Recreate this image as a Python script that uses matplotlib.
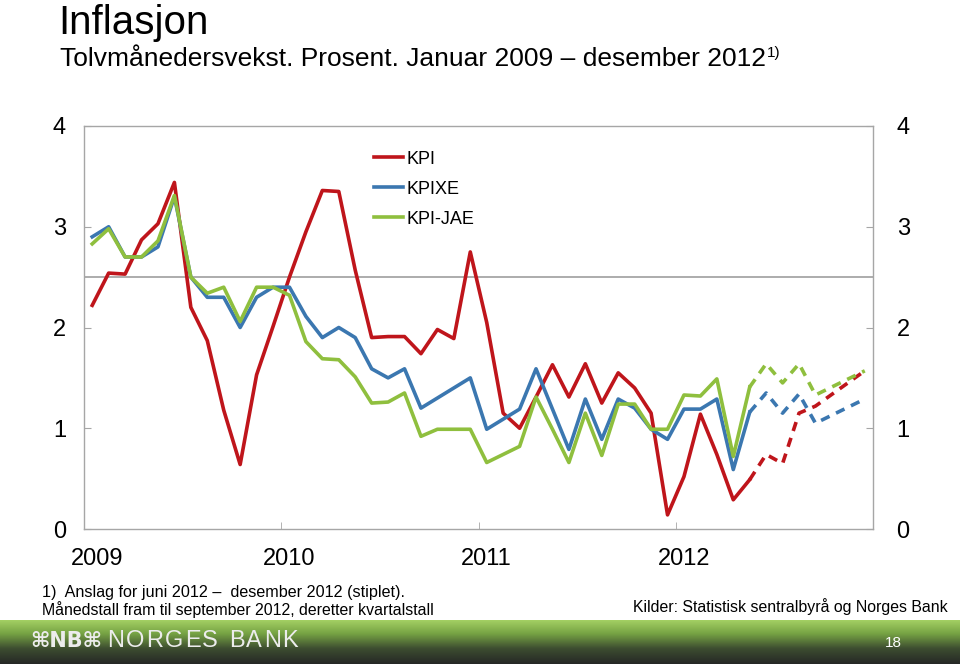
import matplotlib.pyplot as plt
import numpy as np
from matplotlib.colors import LinearSegmentedColormap

plt.rcParams['font.family'] = ['Liberation Sans', 'DejaVu Sans']

# jan 2009 - mai 2012, month index 0..40
months = list(range(41))
kpi = [2.22, 2.54, 2.53, 2.87, 3.03, 3.44, 2.20, 1.87, 1.18, 0.64,
       1.53, 2.01, 2.50, 2.95, 3.36, 3.35, 2.57, 1.90, 1.91, 1.91,
       1.74, 1.98, 1.89, 2.75, 2.05, 1.15, 1.00, 1.31, 1.63, 1.31,
       1.64, 1.25, 1.55, 1.40, 1.15, 0.14, 0.52, 1.14, 0.74, 0.29, 0.49]
kpixe = [2.90, 3.00, 2.70, 2.70, 2.80, 3.30, 2.50, 2.30, 2.30, 2.00,
         2.30, 2.40, 2.40, 2.11, 1.90, 2.00, 1.90, 1.59, 1.50, 1.59,
         1.20, 1.30, 1.40, 1.50, 0.99, 1.09, 1.19, 1.59, 1.19, 0.79,
         1.29, 0.89, 1.29, 1.20, 0.99, 0.89, 1.19, 1.19, 1.29, 0.59, 1.16]
kpijae = [2.83, 2.98, 2.70, 2.70, 2.86, 3.31, 2.50, 2.34, 2.40, 2.06,
          2.40, 2.40, 2.32, 1.86, 1.69, 1.68, 1.51, 1.25, 1.26, 1.35,
          0.92, 0.99, 0.99, 0.99, 0.66, 0.74, 0.82, 1.31, 0.99, 0.66,
          1.15, 0.73, 1.24, 1.24, 0.99, 0.99, 1.33, 1.32, 1.49, 0.72, 1.41]

# anslag (stiplet): mai-sep 2012 maanedlig, deretter 4. kvartal (des)
months_f = [40, 41, 42, 43, 44, 47]
kpi_f = [0.49, 0.74, 0.65, 1.15, 1.22, 1.57]
kpixe_f = [1.16, 1.35, 1.15, 1.34, 1.05, 1.29]
kpijae_f = [1.41, 1.64, 1.45, 1.64, 1.33, 1.57]

year_pos = [0.3, 12, 24, 36]
year_labels = ['2009', '2010', '2011', '2012']
year_ticks = [11.5, 23.5, 35.5]

red = '#bf151b'
blue = '#3b77b0'
green = '#8fbf3e'
grey = '#a6a6a6'

W, H = 960, 664
fig = plt.figure(figsize=(9.6, 6.64), dpi=100)
ax = fig.add_axes([84 / W, 1 - 529 / H, 789 / W, 403 / H])

ax.axhline(2.5, color=grey, lw=1.3, zorder=1)

lw = 2.6
ax.plot(months, kpi, color=red, lw=lw, label='KPI', zorder=3)
ax.plot(months, kpixe, color=blue, lw=lw, label='KPIXE', zorder=3)
ax.plot(months, kpijae, color=green, lw=lw, label='KPI-JAE', zorder=3)
for vals, c in [(kpi_f, red), (kpixe_f, blue), (kpijae_f, green)]:
    ax.plot(months_f, vals, color=c, lw=lw, dashes=(2.6, 2.0), zorder=3)

ax.set_xlim(-0.5, 47.5)
ax.set_ylim(0, 4)
ax.set_yticks([0, 1, 2, 3, 4])
ax.set_xticks(year_pos)
ax.set_xticklabels(year_labels)
ax.set_xticks(year_ticks, minor=True)
ax.tick_params(axis='x', which='major', length=0, labelsize=17, pad=14)
ax.tick_params(axis='x', which='minor', direction='in', length=5, color=grey)
ax.tick_params(axis='y', direction='in', length=5, color=grey, labelsize=17, pad=13)
for s in ax.spines.values():
    s.set_color(grey)
    s.set_linewidth(1.0)

ax2 = ax.twinx()
ax2.set_ylim(0, 4)
ax2.set_yticks([0, 1, 2, 3, 4])
ax2.tick_params(axis='y', direction='in', length=5, color=grey, labelsize=17, pad=17)
for s in ax2.spines.values():
    s.set_visible(False)

leg = ax.legend(loc='upper left', bbox_to_anchor=(0.3676, 0.939), frameon=False,
                fontsize=13, handlelength=1.6, handletextpad=0.2, labelspacing=0.72,
                borderpad=0, borderaxespad=0)

# tittel
fig.text(58 / W, 1 - 34 / H, 'Inflasjon', fontsize=29, va='baseline', ha='left')
sub = fig.text(60 / W, 1 - 66 / H, 'Tolvmånedersvekst. Prosent. Januar 2009 \u2013 desember 2012',
               fontsize=19, va='baseline', ha='left')

# fotnoter
fig.text(42 / W, 1 - 593 / H, '1)  Anslag for juni 2012 \u2013  desember 2012 (stiplet).',
         fontsize=11.6, va='center', ha='left')
fig.text(42 / W, 1 - 610 / H, 'Månedstall fram til september 2012, deretter kvartalstall',
         fontsize=11.4, va='center', ha='left')
fig.text(948 / W, 1 - 607 / H, 'Kilder: Statistisk sentralbyrå og Norges Bank',
         fontsize=11.4, va='center', ha='right')

# bunnfelt
band = fig.add_axes([0, 0, 1, 44 / H])
cmap = LinearSegmentedColormap.from_list('band', [(0, '#a3cf63'), (0.3, '#77a444'),
                                                  (0.65, '#3d4d30'), (1, '#262826')])
band.imshow(np.linspace(0, 1, 100).reshape(-1, 1), aspect='auto', cmap=cmap,
            extent=[0, 1, 0, 1])
band.set_axis_off()

fig.text(893 / W, 1 - 643 / H, '18', fontsize=11, color='white', va='center', ha='center')
fig.text(30 / W, 1 - 641 / H, '\u2318NB\u2318', fontsize=15, color='#ececec',
         va='center', ha='left', family=['DejaVu Sans'], weight='bold')

fig.canvas.draw()
r = fig.canvas.get_renderer()
bb = sub.get_window_extent(r)
fig.text((bb.x1 + 0.5) / W, 1 - 57 / H, '1)', fontsize=11, va='baseline', ha='left')

x = 107
for ch in 'NORGES BANK':
    if ch == ' ':
        x += 9
        continue
    t = fig.text(x / W, 1 - 641 / H, ch, fontsize=17, color='#ececec', va='center', ha='left')
    x += t.get_window_extent(r).width + 1.8

fig.savefig('out.png', dpi=100)
